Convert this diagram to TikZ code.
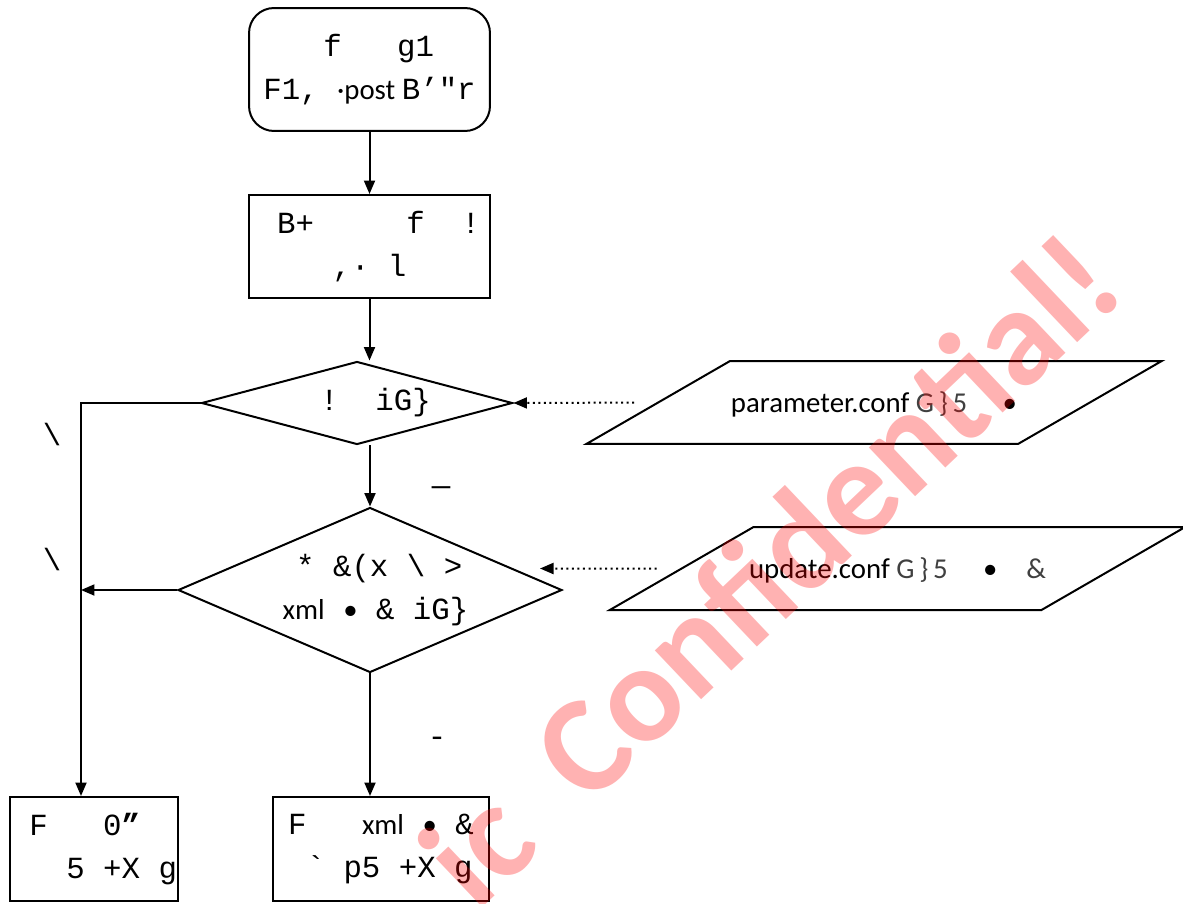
\documentclass[tikz,border=0pt]{standalone}
\usepackage{fontspec}
\newfontfamily\cour{Liberation Mono}
\newfontfamily\calib{Carlito}
\usetikzlibrary{shapes.geometric,arrows.meta}

\newcommand{\cb}[1]{{\calib\fontsize{16.4}{24.4}\selectfont #1}}
\newcommand{\lite}[1]{{\color{black!75}#1}}
\newcommand{\sk}[1]{\hspace*{#1\dimexpr0.6em\relax}}

\tikzset{
  every node/.style={font=\cour\fontsize{17.5}{24.4}\selectfont, inner sep=0pt},
  box/.style={draw, line width=0.04cm, align=center},
  decision/.style={draw, diamond, line width=0.04cm, align=center},
  datafile/.style={draw, trapezium, trapezium left angle=30, trapezium right angle=150,
    line width=0.04cm, text height=1.03cm, text depth=0.63cm},
  arr/.style={-{Triangle[length=0.27cm,width=0.22cm]}, line width=0.04cm},
  dotarr/.style={arr, dotted}
}

\begin{document}
\begin{tikzpicture}[x=0.02cm,y=-0.02cm]
\useasboundingbox (0,0) rectangle (1183,903);

\node[box, rounded corners=0.5cm, minimum width=4.82cm, minimum height=2.46cm] (start) at (369.5,69.5) {~f~~~g1\\F1,~\cb{·post }B’"r};
\node[box, minimum width=4.82cm, minimum height=2.06cm] (init) at (369.5,246.5) {~B+~~~~~f~~!\\,·~l};
\node[decision, minimum width=6.22cm, minimum height=1.66cm, aspect=3.75] (chkparam) at (357,403) {~~!~~iG\}};
\node[decision, minimum width=7.68cm, minimum height=3.3cm, aspect=2.33] (chkupd) at (370,590) {~*~\&(x~\textbackslash~>\\\sk{0.6}\cb{xml}~\cb{•}~\&~iG\}};

\node[datafile] (param) at (874,402.5) {\makebox[5.76cm]{\cb{parameter.conf \lite{G\,\}\,5}\quad{} •}}};
\node[datafile] (upd) at (897.5,568.5) {\makebox[5.76cm]{\cb{update.conf \lite{G\,\}\,5}\quad{} •\quad{}\lite{\&}}}};

\node[box, minimum width=3.36cm, minimum height=2.08cm, align=left] (outA) at (94,849) {\sk{1}F~~~0{\bfseries ”}\\\sk{3}5~+X~g};
\node[box, minimum width=4.32cm, minimum height=2.08cm, align=left] (outB) at (381,849) {F~~~\cb{xml}~\cb{•}~\&\\\sk{1}`~p5~+X~g};

\node (yes1) at (52,435) {\textbackslash};
\node (yes2) at (52,560) {\textbackslash};
\node (no1) at (441,491) {—};
\node (no2) at (437,742) {-};

\coordinate (rail) at (81,403);
\coordinate (updhead) at (540,568.5);

\draw[arr] (start) -- (init);
\draw[arr] (init.south) -- (init.south |- chkparam.north);
\draw[arr] (chkparam.south -| chkupd.north) -- (chkupd.north);
\draw[arr] (chkupd.south) -- (chkupd.south |- outB.north);
\draw[arr] (chkparam.west) -- (rail) -- (rail |- outA.north);
\draw[arr] (chkupd.west) -- (chkupd.west -| rail);
\draw[dotarr, shorten <=0.44cm] (param.west) -- (chkparam.east);
\draw[dotarr, shorten <=0.46cm] (upd.west) -- (updhead);

\node[font=\calib\bfseries\fontsize{79}{83}\selectfont, text=red, opacity=0.3, rotate=43.5, anchor=base east] (stamp) at (1129,294) {ic\hspace{0.22em} Confidential!};
\end{tikzpicture}
\end{document}
